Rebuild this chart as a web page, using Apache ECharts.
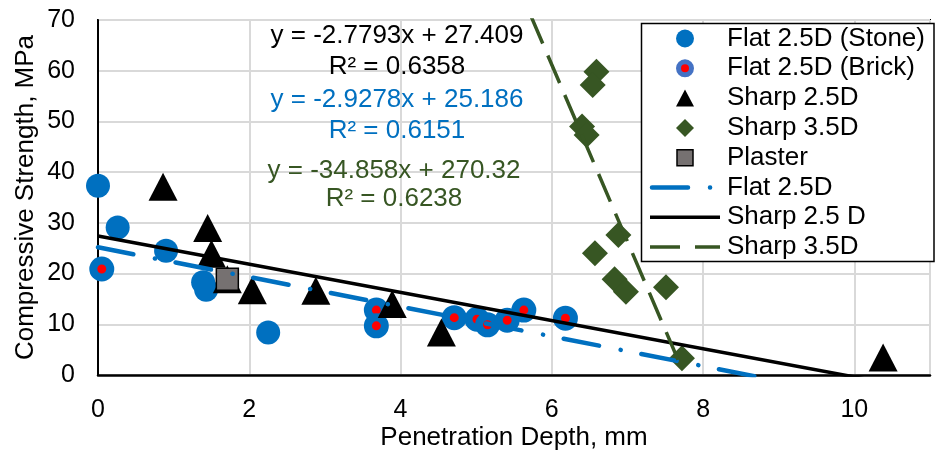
<!DOCTYPE html>
<html>
<head>
<meta charset="utf-8">
<script src="https://cdn.jsdelivr.net/npm/echarts@6/dist/echarts.min.js"></script>
<style>
html,body{margin:0;padding:0;background:#fff;}
#chart{width:935px;height:450px;}
</style>
</head>
<body>
<div id="chart"></div>
<script>
// ---- data ----
const stoneX = [0.0, 0.26, 0.90, 1.39, 1.43, 2.25];
const stoneY = [37.3, 29.1, 24.5, 18.3, 16.8, 8.4];

const brickX = [0.05, 3.68, 3.68, 4.71, 5.01, 5.15, 5.41, 5.63, 6.18];
const brickY = [20.9, 12.8, 9.7, 11.3, 11.0, 9.9, 10.8, 12.8, 11.2];

const sharp25X = [0.86, 1.45, 1.50, 1.71, 2.04, 2.88, 3.89, 4.54, 10.38];
const sharp25Y = [37.1, 29.0, 23.9, 18.9, 16.7, 16.6, 14.0, 8.4, 3.45];

const sharp35X = [6.59, 6.54, 6.40, 6.46, 6.88, 6.57, 6.83, 6.98, 7.51, 7.72];
const sharp35Y = [59.8, 57.2, 49.0, 47.3, 27.6, 24.0, 18.9, 16.4, 17.3, 3.3];

const plasterX = [1.71];
const plasterY = [18.9];

// trendlines (from the displayed equations)
const trendNames = ['Flat 2.5D', 'Sharp 2.5 D', 'Sharp 3.5D'];
const trendSlope = [-2.9278, -2.7793, -34.858];
const trendIntercept = [25.186, 27.409, 270.32];
const trendFrom = [0, 0, 5.5];
const trendTo = [8.7, 10.4, 7.72];
const trendEq = ['y = -2.9278x + 25.186', 'y = -2.7793x + 27.409', 'y = -34.858x + 270.32'];
const trendR2 = ['R² = 0.6151', 'R² = 0.6358', 'R² = 0.6238'];

const xTicks = [0, 2, 4, 6, 8, 10];
const yTicks = [0, 10, 20, 30, 40, 50, 60, 70];

const legendNames = ['Flat 2.5D (Stone)', 'Flat 2.5D (Brick)', 'Sharp 2.5D', 'Sharp 3.5D', 'Plaster', 'Flat 2.5D', 'Sharp 2.5 D', 'Sharp 3.5D'];

// ---- styles ----
const BLUE = '#0070C0', GREEN = '#375623', RED = '#FF0000', GREY = '#767171';
const FONT = '"Liberation Sans", Arial, sans-serif';

const zip = (xs, ys) => xs.map((x, i) => [x, ys[i]]);
const trendData = i => [trendFrom[i], trendTo[i]].map(x => [x, trendSlope[i] * x + trendIntercept[i]]);

const chart = echarts.init(document.getElementById('chart'), null, {renderer: 'canvas'});

// legend graphic
const LX = 641.5, LY = 23.5, ROW = 29.8, ROW0 = 38.5, MX = 685;
const legendGraphics = [];
legendGraphics.push({type: 'rect', shape: {x: LX, y: LY, width: 292.5, height: 238}, style: {fill: '#fff', stroke: '#000', lineWidth: 1.5}, z: 100});
const ry = i => ROW0 + i * ROW;
legendGraphics.push({type: 'circle', shape: {cx: MX, cy: ry(0), r: 9}, style: {fill: BLUE}, z: 101});
legendGraphics.push({type: 'circle', shape: {cx: MX, cy: ry(1), r: 6.5}, style: {fill: RED, stroke: '#4472C4', lineWidth: 5}, z: 101});
legendGraphics.push({type: 'polygon', shape: {points: [[MX, ry(2) - 8.5], [MX - 9, ry(2) + 8.5], [MX + 9, ry(2) + 8.5]]}, style: {fill: '#000'}, z: 101});
legendGraphics.push({type: 'polygon', shape: {points: [[MX, ry(3) - 9], [MX + 9, ry(3)], [MX, ry(3) + 9], [MX - 9, ry(3)]]}, style: {fill: GREEN}, z: 101});
legendGraphics.push({type: 'rect', shape: {x: MX - 8, y: ry(4) - 8, width: 16, height: 16}, style: {fill: GREY, stroke: '#000', lineWidth: 1.5}, z: 101});
legendGraphics.push({type: 'line', shape: {x1: 652, y1: ry(5), x2: 712, y2: ry(5)}, style: {stroke: BLUE, lineWidth: 4.5, lineDash: [36, 22, 0.1, 21], lineCap: 'round'}, z: 101});
legendGraphics.push({type: 'line', shape: {x1: 650, y1: ry(6), x2: 720, y2: ry(6)}, style: {stroke: '#000', lineWidth: 3.5}, z: 101});
legendGraphics.push({type: 'line', shape: {x1: 650, y1: ry(7), x2: 720, y2: ry(7)}, style: {stroke: GREEN, lineWidth: 3.5, lineDash: [30, 15]}, z: 101});
legendNames.forEach((n, i) => {
  legendGraphics.push({type: 'text', x: 727, y: ry(i), style: {text: n, fill: '#000', font: '26px ' + FONT, textVerticalAlign: 'middle', textAlign: 'left'}, z: 101});
});

// equation annotations
const eqColors = [BLUE, '#000', GREEN];
const eqPos = [[397, 100, 131], [397, 36, 67], [394, 171, 199]];
const annot = [];
[1, 0, 2].forEach(i => {
  annot.push({type: 'text', x: eqPos[i][0], y: eqPos[i][1], style: {text: trendEq[i], fill: eqColors[i], font: '26px ' + FONT, textAlign: 'center', textVerticalAlign: 'middle'}, z: 50});
  annot.push({type: 'text', x: eqPos[i][0], y: eqPos[i][2], style: {text: trendR2[i], fill: eqColors[i], font: '26px ' + FONT, textAlign: 'center', textVerticalAlign: 'middle'}, z: 50});
});

const option = {
  animation: false,
  backgroundColor: '#fff',
  textStyle: {fontFamily: FONT},
  grid: {left: 98, right: 5, top: 20, bottom: 75, show: true, borderColor: '#000', borderWidth: 2,
    containLabel: false, outerBoundsMode: 'none'},
  xAxis: {
    type: 'value', min: 0, max: 11, interval: 2,
    name: 'Penetration Depth, mm', nameLocation: 'middle', nameGap: 50, nameMoveOverlap: false,
    nameTextStyle: {fontSize: 26, color: '#000', fontFamily: FONT},
    axisLine: {show: true, onZero: false, lineStyle: {color: '#000', width: 2.5}},
    axisTick: {show: false},
    axisLabel: {fontSize: 25, color: '#000', margin: 23, fontFamily: FONT,
      formatter: v => xTicks.includes(v) ? String(v) : ''},
    splitLine: {show: true, lineStyle: {color: '#D9D9D9', width: 2}}
  },
  yAxis: {
    type: 'value', min: 0, max: 70, interval: 10,
    name: 'Compressive Strength, MPa', nameLocation: 'middle', nameGap: 59, nameMoveOverlap: false,
    nameTextStyle: {fontSize: 26, color: '#000', fontFamily: FONT},
    axisLine: {show: true, onZero: false, lineStyle: {color: '#000', width: 2}},
    axisTick: {show: false},
    axisLabel: {fontSize: 25, color: '#000', margin: 23, fontFamily: FONT,
      formatter: v => yTicks.includes(v) ? String(v) : ''},
    splitLine: {show: true, lineStyle: {color: '#D9D9D9', width: 2}}
  },
  series: [
    {name: 'Flat 2.5D (Stone)', type: 'scatter', data: zip(stoneX, stoneY), symbol: 'circle', symbolSize: 24,
      itemStyle: {color: BLUE, opacity: 1}, z: 2},
    {name: 'Flat 2.5D (Brick)', type: 'scatter', data: zip(brickX, brickY), symbol: 'circle', symbolSize: 17,
      itemStyle: {color: RED, borderColor: BLUE, borderWidth: 8, opacity: 1}, z: 2},
    {name: 'Sharp 2.5D', type: 'scatter', data: zip(sharp25X, sharp25Y), symbol: 'triangle', symbolSize: [29, 28],
      itemStyle: {color: '#000', opacity: 1}, z: 3},
    {name: 'Sharp 3.5D', type: 'scatter', data: zip(sharp35X, sharp35Y), symbol: 'diamond', symbolSize: 26,
      itemStyle: {color: GREEN, opacity: 1}, z: 3},
    {name: 'Plaster', type: 'scatter', data: zip(plasterX, plasterY), symbol: 'rect', symbolSize: 22,
      itemStyle: {color: GREY, borderColor: '#000', borderWidth: 1.5, opacity: 1}, z: 4},
    {name: trendNames[0], type: 'line', data: trendData(0), showSymbol: false, symbol: 'none', clip: true,
      lineStyle: {color: BLUE, width: 4.5, type: [36, 22, 0.1, 21], cap: 'round'}, z: 5},
    {name: trendNames[1], type: 'line', data: trendData(1), showSymbol: false, symbol: 'none', clip: true,
      lineStyle: {color: '#000', width: 3.5, type: 'solid'}, z: 5},
    {name: trendNames[2], type: 'line', data: trendData(2), showSymbol: false, symbol: 'none', clip: true,
      lineStyle: {color: GREEN, width: 3.5, type: [30, 13]}, z: 5}
  ],
  graphic: annot.concat(legendGraphics)
};
chart.setOption(option);
</script>
</body>
</html>
